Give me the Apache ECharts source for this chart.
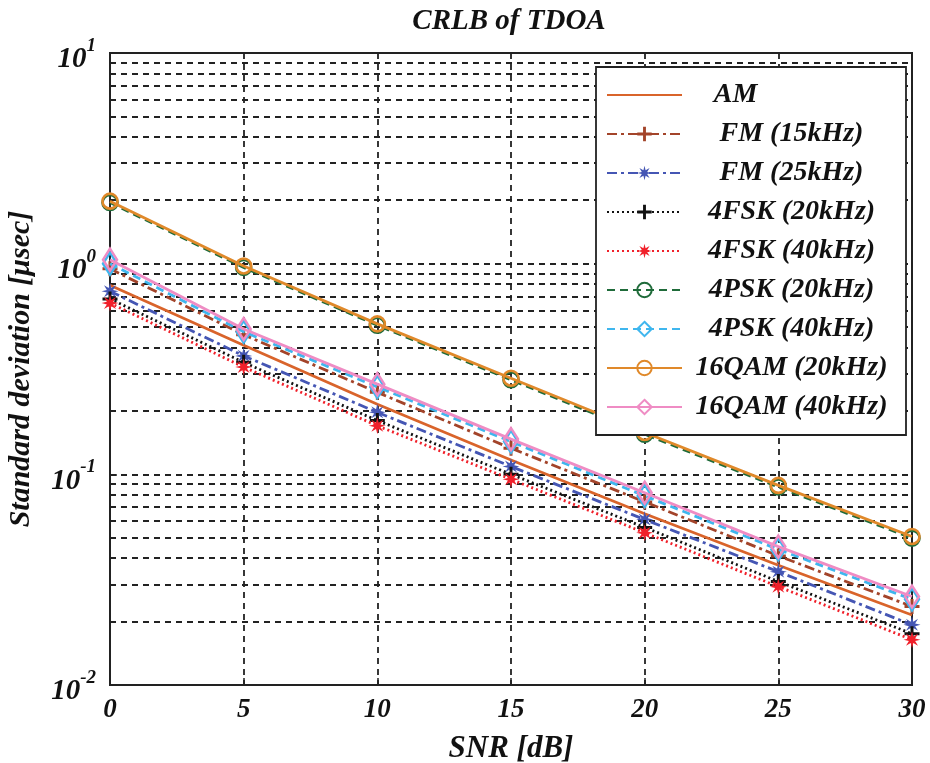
<!DOCTYPE html>
<html>
<head>
<meta charset="utf-8">
<script src="https://cdn.jsdelivr.net/npm/echarts@6/dist/echarts.min.js"></script>
<style>html,body{margin:0;padding:0;background:#fff}#c{width:930px;height:763px}</style>
</head>
<body>
<div id="c"></div>
<script>
// ---- data ----
var snr = [0, 5, 10, 15, 20, 25, 30];
var seriesNames = ['AM', 'FM (15kHz)', 'FM (25kHz)', '4FSK (20kHz)', '4FSK (40kHz)', '4PSK (20kHz)', '4PSK (40kHz)', '16QAM (20kHz)', '16QAM (40kHz)'];
var am       = [0.79, 0.41, 0.215, 0.117, 0.065, 0.037, 0.0215];
var fm15     = [0.945, 0.46, 0.245, 0.133, 0.074, 0.041, 0.0236];
var fm25     = [0.74, 0.365, 0.197, 0.109, 0.061, 0.0345, 0.0193];
var fsk20    = [0.68, 0.34, 0.18, 0.100, 0.056, 0.031, 0.0175];
var fsk40    = [0.65, 0.323, 0.17, 0.0947, 0.0528, 0.0293, 0.0164];
var psk20    = [1.95, 0.96, 0.51, 0.281, 0.155, 0.087, 0.0498];
var psk40    = [1.0, 0.475, 0.26, 0.143, 0.079, 0.044, 0.0255];
var qam20    = [1.98, 0.975, 0.518, 0.286, 0.158, 0.0886, 0.0507];
var qam40    = [1.045, 0.49, 0.268, 0.147, 0.0818, 0.0454, 0.0263];
var xTicks = [0, 5, 10, 15, 20, 25, 30];
var yTickValues = [0.01, 0.1, 1, 10];
var yMinorGrid = [0.02,0.03,0.04,0.05,0.06,0.07,0.08,0.09,0.2,0.3,0.4,0.5,0.6,0.7,0.8,0.9,2,3,4,5,6,7,8,9];

// ---- styles ----
var FONT = 'Liberation Serif';
var PLUS = 'path://M4,0 H6 V4 H10 V6 H6 V10 H4 V6 H0 V4 H4 Z';
var STAR = 'path://M20,10 L13.7,11.53 L17.07,17.07 L11.53,13.7 L10,20 L8.47,13.7 L2.93,17.07 L6.3,11.53 L0,10 L6.3,8.47 L2.93,2.93 L8.47,6.3 L10,0 L11.53,6.3 L17.07,2.93 L13.7,8.47 Z';
var gridDash = {color: '#222', width: 1.8, type: [6, 5]};
var txt = function (size) { return {fontFamily: FONT, fontStyle: 'italic', fontWeight: 'bold', fontSize: size, color: '#111'}; };

function pairs(arr) { return snr.map(function (x, i) { return [x, arr[i]]; }); }

var defs = [
  {data: am,    color: '#d9642b', dash: 'solid',          symbol: 'none'},
  {data: fm15,  color: '#a3442a', dash: [10, 4, 3, 4],    symbol: PLUS, size: 15, fill: true},
  {data: fm25,  color: '#4556b4', dash: [10, 4, 3, 4],    symbol: STAR, size: 17, fill: true},
  {data: fsk20, color: '#111111', dash: [2, 3],           symbol: PLUS, size: 15, fill: true},
  {data: fsk40, color: '#f0202a', dash: [2, 3],           symbol: STAR, size: 17, fill: true},
  {data: psk20, color: '#1f6b3a', dash: [8, 5],           symbol: 'circle', size: 15},
  {data: psk40, color: '#3fb6ee', dash: [8, 5],           symbol: 'diamond', size: [14, 22]},
  {data: qam20, color: '#e0892a', dash: 'solid',          symbol: 'circle', size: 15},
  {data: qam40, color: '#ef8cc4', dash: 'solid',          symbol: 'diamond', size: [14, 22]}
];

var series = defs.map(function (d, i) {
  return {
    name: seriesNames[i],
    type: 'line',
    data: pairs(d.data),
    z: 3 + i,
    symbol: d.symbol,
    symbolSize: d.size || 10,
    showSymbol: d.symbol !== 'none',
    lineStyle: {color: d.color, width: 2.8, type: d.dash},
    itemStyle: d.fill ? {color: d.color, borderColor: d.color, borderWidth: 0}
                      : {color: 'rgba(255,255,255,0)', borderColor: d.color, borderWidth: 2.6},
    emphasis: {disabled: true},
    animation: false
  };
});

// minor gridlines via markLine on a dummy series
series.unshift({
  name: '__grid',
  type: 'line',
  data: [],
  z: 1,
  silent: true,
  animation: false,
  markLine: {
    silent: true,
    symbol: 'none',
    animation: false,
    z: 1,
    label: {show: false},
    lineStyle: gridDash,
    emphasis: {disabled: true},
    data: yMinorGrid.map(function (v) { return {yAxis: v}; })
  }
});

var legendData = seriesNames.map(function (n) {
  if (n === 'AM') return {name: n, itemStyle: {color: 'rgba(0,0,0,0)', borderColor: 'rgba(0,0,0,0)', borderWidth: 0}};
  return {name: n};
});

var chart = echarts.init(document.getElementById('c'));
chart.setOption({
  backgroundColor: '#fff',
  animation: false,
  grid: {left: 110, right: 18, top: 53, bottom: 78, outerBoundsMode: 'none', containLabel: false,
    show: true, borderColor: '#222', borderWidth: 2, backgroundColor: 'transparent'},
  graphic: [{
    type: 'text', x: 509, y: 22,
    style: {text: 'CRLB of TDOA', font: 'italic bold 29px "' + FONT + '"', fill: '#111', align: 'center', verticalAlign: 'middle'}
  }],
  xAxis: {
    type: 'value', min: 0, max: 30, interval: 5,
    name: 'SNR [dB]', nameLocation: 'middle', nameGap: 48,
    nameTextStyle: txt(31),
    axisLine: {lineStyle: {color: '#222', width: 2}},
    axisTick: {inside: true, length: 7, lineStyle: {color: '#222', width: 1.5}},
    axisLabel: Object.assign({margin: 12,
      formatter: function (v) { return xTicks.indexOf(v) >= 0 ? String(v) : ''; }}, txt(27)),
    splitLine: {show: true, lineStyle: gridDash}
  },
  yAxis: {
    type: 'log', logBase: 10, min: 0.01, max: 10,
    name: 'Standard deviation [\u03bcsec]', nameLocation: 'middle', nameGap: 74, nameRotate: 90,
    nameTextStyle: txt(30),
    axisLine: {show: true, lineStyle: {color: '#222', width: 2}},
    axisTick: {inside: true, length: 7, lineStyle: {color: '#222', width: 1.5}},
    axisLabel: {
      margin: 14, color: '#111',
      formatter: function (v) {
        var idx = -1;
        for (var k = 0; k < yTickValues.length; k++) { if (Math.abs(Math.log10(v) - Math.log10(yTickValues[k])) < 1e-6) idx = k; }
        if (idx < 0) return '';
        var e = Math.round(Math.log10(yTickValues[idx]));
        return '{a|10}{b|' + e + '}';
      },
      rich: {
        a: Object.assign(txt(29), {padding: [14, 0, 0, 0]}),
        b: Object.assign(txt(19), {padding: [0, 0, 14, 0]})
      }
    },
    splitLine: {show: true, lineStyle: gridDash}
  },
  legend: {
    data: legendData,
    orient: 'vertical',
    left: 596, top: 67,
    z: 100,
    padding: [12, 10, 12, 10],
    itemGap: 7,
    itemWidth: 75, itemHeight: 18,
    backgroundColor: '#fff',
    borderColor: '#222', borderWidth: 1.8, borderRadius: 0,
    selectedMode: false,
    formatter: function (name) {
      if (name === 'AM') return '{c|AM                }';
      return '{c|' + name + '}';
    },
    textStyle: {
      color: '#111',
      rich: {c: Object.assign(txt(28), {width: 209, align: 'center', lineHeight: 32, height: 32})}
    }
  },
  series: series
});
</script>
</body>
</html>
